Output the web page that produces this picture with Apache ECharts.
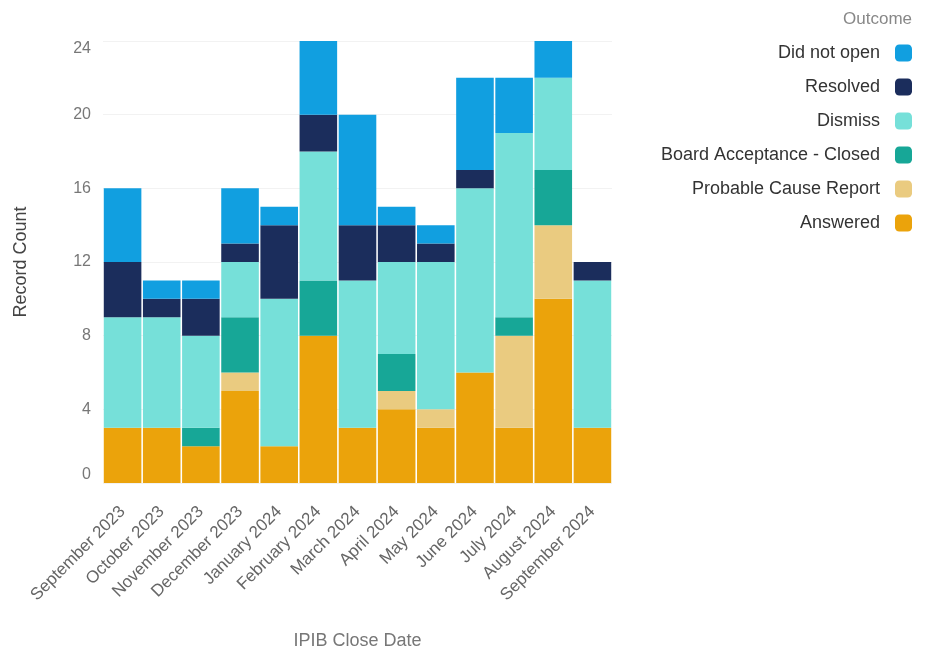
<!DOCTYPE html>
<html><head><meta charset="utf-8">
<script src="https://cdn.jsdelivr.net/npm/echarts@6/dist/echarts.min.js"></script>
<style>html,body{margin:0;padding:0;background:#fff}#c{width:932px;height:653px}</style>
</head><body><div id="c"></div>
<script>
var categories = ["September 2023","October 2023","November 2023","December 2023","January 2024","February 2024","March 2024","April 2024","May 2024","June 2024","July 2024","August 2024","September 2024"];
var answered = [3,3,2,5,2,8,3,4,3,6,3,10,3];
var probableCause = [0,0,0,1,0,0,0,1,1,0,5,4,0];
var boardAcceptance = [0,0,1,3,0,3,0,2,0,0,1,3,0];
var dismiss = [6,6,5,3,8,7,8,5,8,10,10,5,8];
var resolved = [3,1,2,1,4,2,3,2,1,1,0,0,1];
var didNotOpen = [4,1,1,3,1,4,6,1,1,5,3,2,0];
var yTicks = [0,4,8,12,16,20,24];

var seriesDefs = [
  {name:"Answered", data:answered, color:"#eba30b"},
  {name:"Probable Cause Report", data:probableCause, color:"#eacb80"},
  {name:"Board Acceptance - Closed", data:boardAcceptance, color:"#17a797"},
  {name:"Dismiss", data:dismiss, color:"#76e0d9"},
  {name:"Resolved", data:resolved, color:"#1b2d5c"},
  {name:"Did not open", data:didNotOpen, color:"#119fe0"}
];
var font = "Liberation Sans, Arial, sans-serif";
var chart = echarts.init(document.getElementById('c'), null, {renderer:'canvas'});
chart.setOption({
  animation:false,
  textStyle:{fontFamily:font},
  title:{text:"Outcome", right:15, top:6, textStyle:{fontSize:17, fontWeight:'normal', color:'#888', fontFamily:font}},
  legend:{
    orient:'vertical', right:15, top:39, align:'right',
    data:["Did not open","Resolved","Dismiss","Board Acceptance - Closed","Probable Cause Report","Answered"],
    itemWidth:17, itemHeight:17, itemGap:16, icon:'roundRect',
    textStyle:{fontSize:18, color:'#333', fontFamily:font, padding:[0,10,0,0]}
  },
  grid:{left:103, right:320, top:41, bottom:170, containLabel:false, outerBoundsMode:'none'},
  xAxis:{
    type:'category', data:categories,
    name:"IPIB Close Date", nameLocation:'middle', nameGap:149,
    nameTextStyle:{fontSize:18, color:'#777', fontFamily:font},
    axisLine:{show:false}, axisTick:{show:false},
    axisLabel:{rotate:45, fontSize:17, color:'#666', margin:26, interval:0, fontFamily:font}
  },
  yAxis:{
    type:'value', min:yTicks[0], max:yTicks[yTicks.length-1], interval:4,
    name:"Record Count", nameLocation:'middle', nameGap:73, nameRotate:90,
    nameTextStyle:{fontSize:18, color:'#444', fontFamily:font},
    axisLine:{show:false}, axisTick:{show:false},
    axisLabel:{fontSize:16, color:'#777', margin:12, fontFamily:font,
      verticalAlignMinLabel:'bottom', verticalAlignMaxLabel:'top'},
    splitLine:{lineStyle:{color:'#f2f2f2', width:1}}
  },
  series: seriesDefs.map(function(s){
    return {name:s.name, type:'bar', stack:'total', data:s.data, barCategoryGap:'4%',
      itemStyle:{color:s.color}};
  })
});
</script></body></html>
